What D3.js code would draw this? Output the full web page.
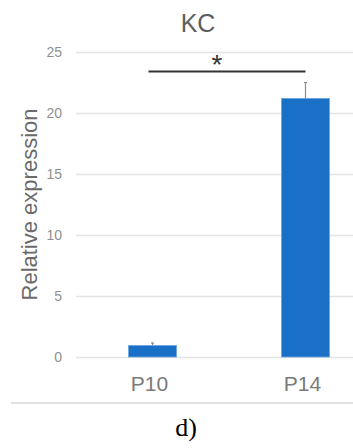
<!DOCTYPE html>
<html>
<head>
<meta charset="utf-8">
<script src="https://cdn.jsdelivr.net/npm/d3@7"></script>
<style>
  body { margin: 0; background: #fff; }
  svg { display: block; }
</style>
</head>
<body>
<div id="chart"></div>
<script>
// Data
const categories = ["P10", "P14"];
const values = [0.95, 21.2];
const errors = [0.2, 1.3];
const yTicks = [0, 5, 10, 15, 20, 25];
const sigBar = { from: "P10", to: "P14", y: 23.4, label: "*" };

const dimensions = {
  width: 353,
  height: 448,
  margin: { top: 52, right: -29, bottom: 91, left: 76 },
};
dimensions.boundedWidth =
  dimensions.width - dimensions.margin.left - dimensions.margin.right;
dimensions.boundedHeight =
  dimensions.height - dimensions.margin.top - dimensions.margin.bottom;

const svg = d3
  .select("#chart")
  .append("svg")
  .attr("width", dimensions.width)
  .attr("height", dimensions.height);

const bound = svg
  .append("g")
  .attr("transform", `translate(${dimensions.margin.left},${dimensions.margin.top})`);

// Scales
const xScale = d3
  .scalePoint()
  .domain(categories)
  .range([0, dimensions.boundedWidth])
  .padding(0.5);
const yScale = d3
  .scaleLinear()
  .domain([0, 25])
  .range([dimensions.boundedHeight, 0]);

const barWidth = 48;
const font = "'Liberation Sans', Arial, sans-serif";

// Gridlines + tick labels
const yAxis = d3
  .axisLeft(yScale)
  .tickValues(yTicks)
  .tickSize(-dimensions.boundedWidth)
  .tickPadding(14);

bound
  .append("g")
  .attr("class", "y-axis")
  .call(yAxis)
  .call((g) => g.select(".domain").remove())
  .call((g) =>
    g.selectAll(".tick line").attr("stroke", "#e4e4e4").attr("stroke-width", 1.5)
  )
  .call((g) =>
    g
      .selectAll(".tick text")
      .attr("fill", "#8f8f8f")
      .style("font-size", "14px")
      .style("font-family", font)
  );

// Bars
bound
  .selectAll("rect.bar")
  .data(categories)
  .join("rect")
  .attr("class", "bar")
  .attr("x", (d) => xScale(d) - barWidth / 2)
  .attr("y", (d, i) => yScale(values[i]))
  .attr("width", barWidth)
  .attr("height", (d, i) => yScale(0) - yScale(values[i]))
  .attr("fill", "#1a6fc6")
  .attr("stroke", "#6fa6df")
  .attr("stroke-width", 0.8);

// Error bars (upper only, as drawn)
bound
  .selectAll("g.err")
  .data(categories)
  .join("g")
  .attr("class", "err")
  .each(function (d, i) {
    const g = d3.select(this);
    const x = xScale(d);
    g.append("line")
      .attr("x1", x)
      .attr("x2", x)
      .attr("y1", yScale(values[i]))
      .attr("y2", yScale(values[i] + errors[i]))
      .attr("stroke", "#8a8a8a")
      .attr("stroke-width", 1.2);
    g.append("line")
      .attr("x1", x - 1.5)
      .attr("x2", x + 1.5)
      .attr("y1", yScale(values[i] + errors[i]))
      .attr("y2", yScale(values[i] + errors[i]))
      .attr("stroke", "#8a8a8a")
      .attr("stroke-width", 1.2);
  });

// Significance line + asterisk
bound
  .append("line")
  .attr("x1", xScale(sigBar.from) - 4)
  .attr("x2", xScale(sigBar.to))
  .attr("y1", yScale(sigBar.y))
  .attr("y2", yScale(sigBar.y))
  .attr("stroke", "#333")
  .attr("stroke-width", 2.2);

bound
  .append("text")
  .attr("x", (xScale(sigBar.from) + xScale(sigBar.to)) / 2 - 12)
  .attr("y", yScale(sigBar.y) + 2)
  .attr("text-anchor", "middle")
  .attr("fill", "#333")
  .style("font-size", "28px")
  .style("font-family", font)
  .text(sigBar.label);

// Category labels
bound
  .selectAll("text.cat")
  .data(categories)
  .join("text")
  .attr("class", "cat")
  .attr("x", (d) => xScale(d) - 3)
  .attr("y", dimensions.boundedHeight + 34)
  .attr("text-anchor", "middle")
  .attr("fill", "#7a7a7a")
  .style("font-size", "21px")
  .style("font-family", font)
  .text((d) => d);

// Y label
svg
  .append("text")
  .attr("transform", `translate(37, ${dimensions.margin.top + dimensions.boundedHeight / 2}) rotate(-90)`)
  .attr("text-anchor", "middle")
  .attr("fill", "#6a6a6a")
  .style("font-size", "22px")
  .style("font-family", font)
  .text("Relative expression");

// Title
svg
  .append("text")
  .attr("x", 198)
  .attr("y", 32)
  .attr("text-anchor", "middle")
  .attr("fill", "#5e5e5e")
  .style("font-size", "25px")
  .style("font-family", font)
  .text("KC");

// Separator + caption
svg
  .append("line")
  .attr("x1", 11)
  .attr("x2", dimensions.width)
  .attr("y1", 403)
  .attr("y2", 403)
  .attr("stroke", "#e2e2e2")
  .attr("stroke-width", 2);

svg
  .append("text")
  .attr("x", 186)
  .attr("y", 436)
  .attr("text-anchor", "middle")
  .attr("fill", "#000")
  .style("font-size", "26px")
  .style("font-family", "'Liberation Serif', 'Times New Roman', serif")
  .text("d)");
</script>
</body>
</html>
